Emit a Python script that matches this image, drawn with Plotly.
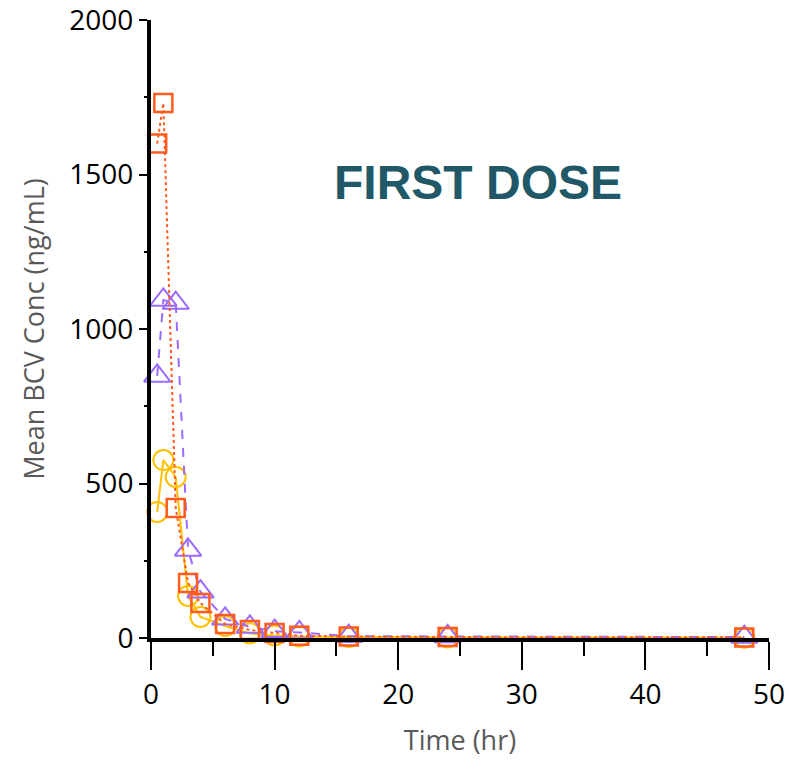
import plotly.graph_objects as go

time_hr = [0.5, 1, 2, 3, 4, 6, 8, 10, 12, 16, 24, 48]
conc_circle = [408, 576, 521, 136, 68, 39, 15, 8, 5, 3, 2, 1]
conc_triangle = [848, 1094, 1084, 285, 150, 62, 36, 22, 18, 6, 5, 3]
conc_square = [1600, 1731, 421, 178, 113, 45, 26, 16, 7, 5, 3, 2]

x_ticks = [0, 10, 20, 30, 40, 50]
y_ticks = [0, 500, 1000, 1500, 2000]

fig = go.Figure()
fig.add_trace(go.Scatter(
    x=time_hr, y=conc_circle, mode="lines+markers", cliponaxis=False,
    line=dict(color="#FFC000", width=2, dash="solid"),
    marker=dict(symbol="circle-open", size=20, color="#FFC000", line=dict(width=2, color="#FFC000")),
    showlegend=False))
fig.add_trace(go.Scatter(
    x=time_hr, y=conc_triangle, mode="lines+markers", cliponaxis=False,
    line=dict(color="#9B6BFF", width=2, dash="dash"),
    marker=dict(symbol="triangle-up-open", size=23, color="#9B6BFF", line=dict(width=2, color="#9B6BFF")),
    showlegend=False))
fig.add_trace(go.Scatter(
    x=time_hr, y=conc_square, mode="lines+markers", cliponaxis=False,
    line=dict(color="#FF5B1F", width=2, dash="dot"),
    marker=dict(symbol="square-open", size=18, color="#FF5B1F", line=dict(width=2.5, color="#FF5B1F")),
    showlegend=False))

fig.add_annotation(x=(478 - 151) / (769 - 151), y=(638 - 182) / (638 - 20), xref="paper", yref="paper",
                   text="<b>FIRST DOSE</b>", showarrow=False,
                   font=dict(family="Liberation Sans, Arial", size=48, color="#215868"),
                   xanchor="center", yanchor="middle")

fig.update_layout(
    width=789, height=760,
    margin=dict(l=151, r=20, t=20, b=122),
    paper_bgcolor="white", plot_bgcolor="white",
    font=dict(family="Open Sans, Noto Sans", size=26, color="black"),
)
fig.update_xaxes(
    range=[0, 50], tickvals=x_ticks, ticktext=[str(v) for v in x_ticks],
    showgrid=False, zeroline=False, automargin=False, ticklabeloverflow="allow",
    showline=True, linecolor="black", linewidth=4,
    ticks="outside", ticklen=28, tickwidth=2, tickcolor="black",
    minor=dict(dtick=5, ticks="outside", ticklen=14, tickwidth=2, tickcolor="black", showgrid=False),
    title=dict(text="Time (hr)", font=dict(size=27, color="#595959"), standoff=22),
    tickfont=dict(size=28),
)
fig.update_yaxes(
    range=[0, 2000], tickvals=y_ticks, ticktext=[str(v) for v in y_ticks],
    showgrid=False, zeroline=False, automargin=False, ticklabeloverflow="allow",
    showline=True, linecolor="black", linewidth=4,
    ticks="outside", ticklen=8, tickwidth=2, tickcolor="black",
    minor=dict(dtick=250, ticks="outside", ticklen=3, tickwidth=2, tickcolor="black", showgrid=False),
    title=dict(text="Mean BCV Conc (ng/mL)", font=dict(size=27, color="#595959"), standoff=18),
    tickfont=dict(size=28),
)

# remove the browser's default 8px body margin so the figure fills the window exactly
fig.write_html("out.html",
               config={"displayModeBar": False},
               post_script="document.body.style.margin='0';document.body.style.overflow='hidden';")
